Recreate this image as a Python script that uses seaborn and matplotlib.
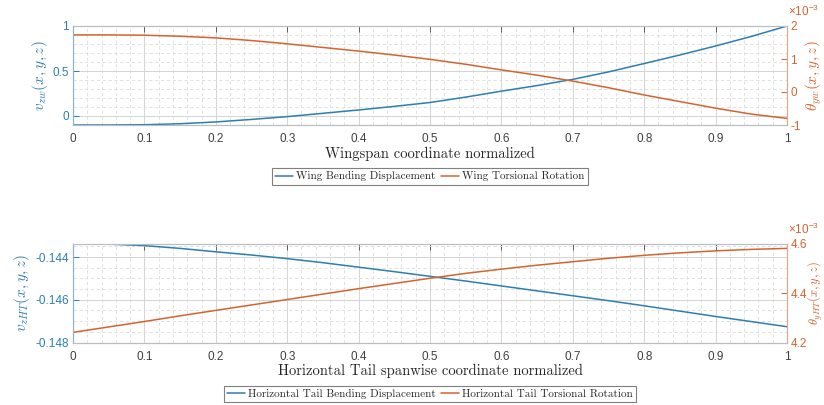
import numpy as np
import pandas as pd
import matplotlib
matplotlib.use("Agg")
import matplotlib.pyplot as plt
from matplotlib.ticker import MultipleLocator, FixedLocator, FuncFormatter
from matplotlib.transforms import offset_copy
import seaborn as sns

# ---- data -------------------------------------------------------------
span = [0.0, 0.05, 0.10, 0.15, 0.20, 0.25, 0.30, 0.35, 0.40, 0.45, 0.50,
        0.55, 0.60, 0.65, 0.70, 0.75, 0.80, 0.85, 0.90, 0.95, 1.00]

# wing: bending displacement and torsional rotation (rad)
wing_bending = [-0.100, -0.100, -0.097, -0.086, -0.066, -0.038, -0.007, 0.030,
                0.067, 0.107, 0.150, 0.210, 0.276, 0.338, 0.407, 0.490,
                0.583, 0.678, 0.778, 0.884, 1.000]
wing_torsion = [1.73e-3, 1.73e-3, 1.72e-3, 1.69e-3, 1.64e-3, 1.56e-3, 1.46e-3,
                1.35e-3, 1.24e-3, 1.12e-3, 0.99e-3, 0.84e-3, 0.67e-3, 0.51e-3,
                0.33e-3, 0.13e-3, -0.09e-3, -0.29e-3, -0.49e-3, -0.67e-3,
                -0.80e-3]

# horizontal tail: bending displacement and torsional rotation (rad)
tail_bending = [-0.14337, -0.14339, -0.14346, -0.14359, -0.14375, -0.14390,
                -0.14407, -0.14426, -0.14447, -0.14468, -0.14490, -0.14512,
                -0.14535, -0.14558, -0.14581, -0.14604, -0.14628, -0.14653,
                -0.14678, -0.14702, -0.14726]
tail_torsion = [4.241e-3, 4.263e-3, 4.285e-3, 4.308e-3, 4.330e-3, 4.352e-3,
                4.374e-3, 4.396e-3, 4.418e-3, 4.439e-3, 4.460e-3, 4.480e-3,
                4.497e-3, 4.513e-3, 4.527e-3, 4.541e-3, 4.553e-3, 4.563e-3,
                4.571e-3, 4.577e-3, 4.581e-3]

x_ticks = [0, 0.1, 0.2, 0.3, 0.4, 0.5, 0.6, 0.7, 0.8, 0.9, 1]
wing_ticks = [0, 0.5, 1]
wing_rot_ticks = [-1e-3, 0, 1e-3, 2e-3]
tail_ticks = [-0.148, -0.146, -0.144]
tail_rot_ticks = [4.2e-3, 4.4e-3, 4.6e-3]

# ---- style ------------------------------------------------------------
sns.set_style("white")
plt.rcParams["font.family"] = ["Liberation Sans", "DejaVu Sans"]
plt.rcParams["mathtext.fontset"] = "cm"

BLUE = "#2C7FB0"
ORANGE = "#D3642F"
AXIS_GRAY = "#404040"
SERIF = "cmr10"

df = pd.DataFrame({"span": span,
                   "wing_bending": wing_bending, "wing_torsion": wing_torsion,
                   "tail_bending": tail_bending, "tail_torsion": tail_torsion})

fig = plt.figure(figsize=(8.24, 4.05), dpi=100)
W, H = 824, 405
ax_top = fig.add_axes([73 / W, 1 - 125 / H, 714 / W, 99 / H])
ax_bot = fig.add_axes([73 / W, 1 - 342.5 / H, 714 / W, 98.8 / H])


def fmt_plain(v, _):
    return f"{v:g}"


def fmt_milli(v, _):
    return f"{v / 1e-3:.10g}" if abs(v) > 1e-12 else "0"


def style_pair(ax, ax2, yticks, ylim, yminor, y2ticks, y2lim, y2fmt):
    ax.set_xlim(0, 1)
    ax.set_ylim(*ylim)
    ax2.set_ylim(*y2lim)
    ax.xaxis.set_major_locator(FixedLocator(x_ticks))
    ax.xaxis.set_minor_locator(MultipleLocator(0.02))
    ax.yaxis.set_major_locator(FixedLocator(yticks))
    ax.yaxis.set_minor_locator(MultipleLocator(yminor))
    ax.yaxis.set_major_formatter(FuncFormatter(fmt_plain))
    ax.xaxis.set_major_formatter(FuncFormatter(fmt_plain))
    ax2.yaxis.set_major_locator(FixedLocator(y2ticks))
    ax2.yaxis.set_major_formatter(FuncFormatter(y2fmt))

    ax.grid(which="major", color="#D4D4D4", lw=0.7, ls="-")
    ax.grid(which="minor", color="#DCDCDC", lw=0.6, ls=(0, (4, 3)))
    ax.set_axisbelow(True)
    ax2.grid(False)

    ax.tick_params(axis="x", which="major", direction="in", length=4,
                   width=0.7, color="#606060", labelcolor=AXIS_GRAY,
                   labelsize=8.5, top=True, pad=6)
    ax.tick_params(axis="x", which="minor", length=0, top=False)
    ax.tick_params(axis="y", which="major", direction="in", length=4,
                   width=0.7, color=BLUE, labelcolor=BLUE, labelsize=8.5,
                   pad=3)
    ax.tick_params(axis="y", which="minor", length=0)
    ax2.tick_params(axis="y", which="major", direction="in", length=4,
                    width=0.7, color=ORANGE, labelcolor=ORANGE,
                    labelsize=8.5, pad=2.5)
    ax2.tick_params(axis="y", which="minor", length=0)

    for a in (ax, ax2):
        for side in ("top", "bottom"):
            a.spines[side].set_color("#B8BEC4")
            a.spines[side].set_linewidth(0.8)
        a.spines["left"].set_color("#8FB3CC")
        a.spines["right"].set_color("#E0A88C")
        a.spines["left"].set_linewidth(0.8)
        a.spines["right"].set_linewidth(0.8)

    # scale factor of the right-hand axis, above its top tick label
    trans = offset_copy(ax.transAxes, fig=fig, x=1, y=5, units="points")
    ax2.text(1.0, 1.0, r"$\mathregular{\times10^{-3}}$", transform=trans,
             ha="left", va="bottom", color=ORANGE, fontsize=8.5)


def draw_pair(ax, ycol, y2col, lab1, lab2, xlabel, ylab1, ylab2, pad2, fs2):
    ax2 = ax.twinx()
    sns.lineplot(data=df, x="span", y=ycol, ax=ax, color=BLUE, lw=1.1,
                 label=lab1, legend=False)
    sns.lineplot(data=df, x="span", y=y2col, ax=ax2, color=ORANGE, lw=1.1,
                 label=lab2, legend=False)
    ax.set_xlabel(xlabel, family=SERIF, fontsize=10.5, color="#262626",
                  labelpad=1)
    ax.set_ylabel(ylab1, fontsize=11, color=BLUE, labelpad=2)
    ax2.set_ylabel(ylab2, fontsize=fs2, color=ORANGE, labelpad=pad2)
    handles = [ax.get_lines()[0], ax2.get_lines()[0]]
    leg = ax.legend(handles, [lab1, lab2], loc="center",
                    bbox_to_anchor=(0.5, -0.52), ncol=2, frameon=True,
                    fancybox=False, framealpha=1, edgecolor="#808080",
                    prop={"family": SERIF, "size": 8}, handlelength=1.6,
                    handletextpad=0.3, columnspacing=0.5, borderpad=0.3,
                    borderaxespad=0)
    leg.get_frame().set_linewidth(0.8)
    return ax2


ax_top2 = draw_pair(ax_top, "wing_bending", "wing_torsion",
                    "Wing Bending Displacement", "Wing Torsional Rotation",
                    "Wingspan coordinate normalized",
                    r"$v_{zw}(x,y,z)$", r"$\theta_{yw}(x,y,z)$", 2, 11)
style_pair(ax_top, ax_top2, wing_ticks, (-0.1, 1.0), 0.1,
           wing_rot_ticks, (-1e-3, 2e-3), fmt_milli)

ax_bot2 = draw_pair(ax_bot, "tail_bending", "tail_torsion",
                    "Horizontal Tail Bending Displacement",
                    "Horizontal Tail Torsional Rotation",
                    "Horizontal Tail spanwise coordinate normalized",
                    r"$v_{zHT}(x,y,z)$", r"$\theta_{yHT}(x,y,z)$", -0.5, 9)
style_pair(ax_bot, ax_bot2, tail_ticks, (-0.148, -0.14337), 0.0005,
           tail_rot_ticks, (4.2e-3, 4.6e-3), fmt_milli)

fig.savefig("out.png", dpi=100)
